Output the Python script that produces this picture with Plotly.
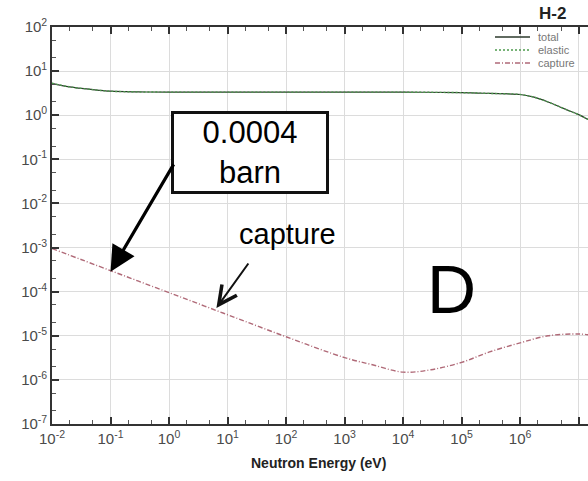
import plotly.graph_objects as go

# ---- data (energy in eV, cross section in barn) ----
energy_total = [1e-2, 2e-2, 5e-2, 1e-1, 3e-1, 1e0, 1e1, 1e2, 1e3, 1e4, 1e5, 3e5,
                1e6, 1.66e6, 3e6, 4.8e6, 7e6, 1e7, 1.45e7]
total = [5.3, 4.4, 3.8, 3.5, 3.38, 3.34, 3.34, 3.34, 3.34, 3.33, 3.25, 3.12,
         2.95, 2.6, 2.0, 1.54, 1.25, 1.03, 0.8]
elastic = [5.3, 4.4, 3.8, 3.5, 3.38, 3.34, 3.34, 3.34, 3.34, 3.33, 3.25, 3.12,
           2.95, 2.6, 2.0, 1.54, 1.25, 1.03, 0.8]

energy_capture = [1e-2, 1e-1, 1e0, 1e1, 1e2, 1e3, 3e3, 1e4, 3e4, 1e5, 3e5,
                  1e6, 3e6, 1e7, 1.45e7]
capture = [9.5e-4, 3.0e-4, 9.5e-5, 3.0e-5, 9.5e-6, 3.2e-6, 2.2e-6, 1.5e-6,
           1.7e-6, 2.5e-6, 4.3e-6, 6.9e-6, 1.0e-5, 1.1e-5, 1.05e-5]

x_tick_exp = [-2, -1, 0, 1, 2, 3, 4, 5, 6, 7]
y_tick_exp = [-7, -6, -5, -4, -3, -2, -1, 0, 1, 2]
x_tick_labels = [f"10<sup>{e}</sup>" for e in x_tick_exp]
y_tick_labels = [f"10<sup>{e}</sup>" for e in y_tick_exp]

legend_names = ["total", "elastic", "capture"]
colors = {"total": "#2d3a2d", "elastic": "#4c9a4c", "capture": "#b06a78"}
dashes = {"total": "solid", "elastic": "2px,2px", "capture": "5px,2px,1px,2px"}

FONT = "Liberation Sans, Arial, sans-serif"

fig = go.Figure()
fig.add_trace(go.Scatter(x=energy_total, y=total, mode="lines", name="total",
                         line=dict(color=colors["total"], width=1.2, shape="spline",
                                   dash=dashes["total"]), showlegend=False))
fig.add_trace(go.Scatter(x=energy_total, y=elastic, mode="lines", name="elastic",
                         line=dict(color=colors["elastic"], width=1.4, shape="spline",
                                   dash=dashes["elastic"]), showlegend=False))
fig.add_trace(go.Scatter(x=energy_capture, y=capture, mode="lines", name="capture",
                         line=dict(color=colors["capture"], width=1.4, shape="spline",
                                   dash=dashes["capture"]), showlegend=False))

L, T, B = 52, 27, 57
W, H = 588, 481
PW, PH = W - L, H - T - B


def px(xp):
    return (xp - L) / PW


def py(yp):
    return (H - B - yp) / PH


axis_common = dict(
    type="log", showline=True, linecolor="#333", linewidth=1.6,
    showgrid=True, gridcolor="#dcdcdc", gridwidth=1,
    ticks="inside", ticklen=7, tickwidth=1.5, tickcolor="#333",
    minor=dict(ticks="inside", ticklen=4, tickwidth=1.1, tickcolor="#555",
               showgrid=False),
    tickfont=dict(family=FONT, size=15, color="#4a4a4a"),
    zeroline=False,
)

fig.update_xaxes(**axis_common, range=[-2, 7.16], mirror="ticks",
                 tickvals=[10.0 ** e for e in x_tick_exp], ticktext=x_tick_labels)
fig.update_yaxes(**axis_common, range=[-7, 2],
                 tickvals=[10.0 ** e for e in y_tick_exp], ticktext=y_tick_labels)

shapes = []
annotations = []

# manual compact legend (top right)
legend_rows = [37, 50, 63]
for name, yr in zip(legend_names, legend_rows):
    shapes.append(dict(type="line", xref="paper", yref="paper",
                       x0=px(495), x1=px(530), y0=py(yr), y1=py(yr),
                       line=dict(color=colors[name], width=1.3, dash=dashes[name])))
    annotations.append(dict(xref="paper", yref="paper", x=px(536), y=py(yr),
                            xanchor="left", yanchor="middle", text=name, showarrow=False,
                            font=dict(family=FONT, size=11, color="#777")))

# title H-2
annotations.append(dict(xref="paper", yref="paper", x=px(552), y=py(13),
                        xanchor="center", yanchor="middle", text="<b>H-2</b>",
                        showarrow=False, font=dict(family=FONT, size=17, color="#222")))

# x-axis title
annotations.append(dict(xref="paper", yref="paper", x=px(318), y=py(463),
                        xanchor="center", yanchor="middle",
                        text="<b>Neutron Energy (eV)</b>", showarrow=False,
                        font=dict(family=FONT, size=14, color="#222")))

# boxed label
annotations.append(dict(xref="paper", yref="paper", x=px(250.5), y=py(152.5),
                        xanchor="center", yanchor="middle", text="0.0004<br>barn",
                        showarrow=False, width=150, height=75, borderpad=1,
                        bordercolor="#111", borderwidth=3, bgcolor="white",
                        font=dict(family=FONT, size=31, color="#000")))

# thick arrow from box to the capture curve at 0.1 eV
annotations.append(dict(xref="x", yref="y", x=-1.0, y=-3.55, text="",
                        showarrow=True, axref="pixel", ayref="pixel", ax=64, ay=-109,
                        arrowhead=2, arrowsize=1.6, arrowwidth=3.2, arrowcolor="#000"))

# "capture" label and its arrow
annotations.append(dict(xref="paper", yref="paper", x=px(287), y=py(234),
                        xanchor="center", yanchor="middle", text="capture",
                        showarrow=False, font=dict(family=FONT, size=29, color="#000")))
annotations.append(dict(xref="x", yref="y", x=0.81, y=-4.37, text="",
                        showarrow=True, axref="pixel", ayref="pixel", ax=33, ay=-46,
                        arrowhead=5, arrowsize=1.8, arrowwidth=2, arrowcolor="#111"))

# big D
annotations.append(dict(xref="paper", yref="paper", x=px(451), y=py(289),
                        xanchor="center", yanchor="middle", text="D",
                        showarrow=False, font=dict(family=FONT, size=68, color="#000")))

fig.update_layout(
    width=W, height=H,
    margin=dict(l=L, r=0, t=T, b=B, pad=0),
    paper_bgcolor="white", plot_bgcolor="white",
    shapes=shapes, annotations=annotations,
    showlegend=False,
)

fig.write_html("out.html")
